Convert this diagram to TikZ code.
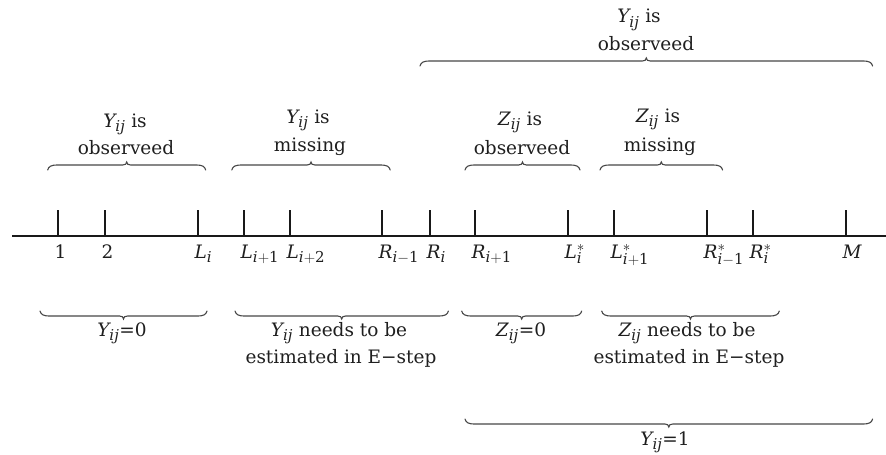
\RequirePackage{fix-cm}
\documentclass[tikz,border=0pt]{standalone}
\usepackage{mathspec}
\setmainfont{DejaVu Serif}
\setmathsfont(Digits,Latin){DejaVu Serif}
\DeclareMathSizes{18.5}{18.5}{15}{11}
\begin{document}
\begin{tikzpicture}[x=1pt,y=-1pt,
  axisline/.style={line width=1.3pt, black!90},
  tickmark/.style={line width=1.3pt, black!90},
  bracepen/.style={line width=1.1pt, black!72, line cap=round},
  flipped/.style={yscale=-1},
  txt/.style={font=\fontsize{18.5}{27}\selectfont, inner sep=0pt, text=black!88, anchor=base},
  ticklbl/.style={font=\fontsize{18.5}{22}\selectfont, inner sep=0pt, text=black!88, anchor=base west},
  % curly brace centred on the pic origin, tip pointing up; #1 = half width
  curly/.pic={
    \draw[bracepen] (-#1,5) .. controls (-#1+1,1.5) and (-#1+3,0) .. (-#1+10,0)
      -- (-4,0) .. controls (-1.5,0) and (0,-1) .. (0,-3)
      .. controls (0,-1) and (1.5,0) .. (4,0)
      -- (#1-10,0) .. controls (#1-3,0) and (#1-1,1.5) .. (#1,5);
  }
]
\useasboundingbox (0,0) rectangle (886,455);

% time axis with tick marks and their labels
\coordinate (axL) at (12,236);
\coordinate (axR) at (886,236);
\draw[axisline] (axL) -- (axR);
\foreach \x/\lab [count=\k] in {58/1, 105/2, 198/L_i, 244/L_{i+1}, 290/L_{i+2},
    382/R_{i-1}, 430/R_i, 475/R_{i+1}, 568/L^*_i, 614/L^*_{i+1},
    707/R^*_{i-1}, 753/R^*_i, 846/M} {
  \coordinate (tk\k) at (\x,236);
  \draw[tickmark] (tk\k) -- ++(0,-26);
  \node[ticklbl] (lb\k) at (\x-3.5,258) {$\lab$};
}

% braces above the axis
\pic at (126.7,165) {curly=79};
\pic at (311,165) {curly=79.2};
\pic at (522.5,165) {curly=57.5};
\pic at (661.3,165) {curly=61.3};
\pic at (646.3,61) {curly=226.3};

\node[txt] (obsA1) at (125,127) {$Y_{ij}$ is};
\node[txt] (obsA2) at (126,154) {observeed};
\node[txt] (misA1) at (308,123) {$Y_{ij}$ is};
\node[txt] (misA2) at (310,151) {missing};
\node[txt] (obsB1) at (520,125) {$Z_{ij}$ is};
\node[txt] (obsB2) at (522,154) {observeed};
\node[txt] (misB1) at (658,122) {$Z_{ij}$ is};
\node[txt] (misB2) at (660,151) {missing};
\node[txt] (top1) at (639,23) {$Y_{ij}$ is};
\node[txt] (top2) at (646,50) {observeed};

% braces below the axis
\pic[flipped] at (123.5,316) {curly=83.5};
\pic[flipped] at (341.7,316) {curly=106.7};
\pic[flipped] at (521.7,316) {curly=60};
\pic[flipped] at (690.5,316) {curly=88.8};
\pic[flipped] at (668.8,424) {curly=203.8};

\node[txt] (zeroY) at (122,336) {$Y_{ij}$=0};
\node[txt] (estY1) at (339,336) {$Y_{ij}$ needs to be};
\node[txt] (estY2) at (341,363) {estimated in E−step};
\node[txt] (zeroZ) at (521,336) {$Z_{ij}$=0};
\node[txt] (estZ1) at (687,336) {$Z_{ij}$ needs to be};
\node[txt] (estZ2) at (689,363) {estimated in E−step};
\node[txt] (oneY) at (665,445) {$Y_{ij}$=1};
\end{tikzpicture}
\end{document}
